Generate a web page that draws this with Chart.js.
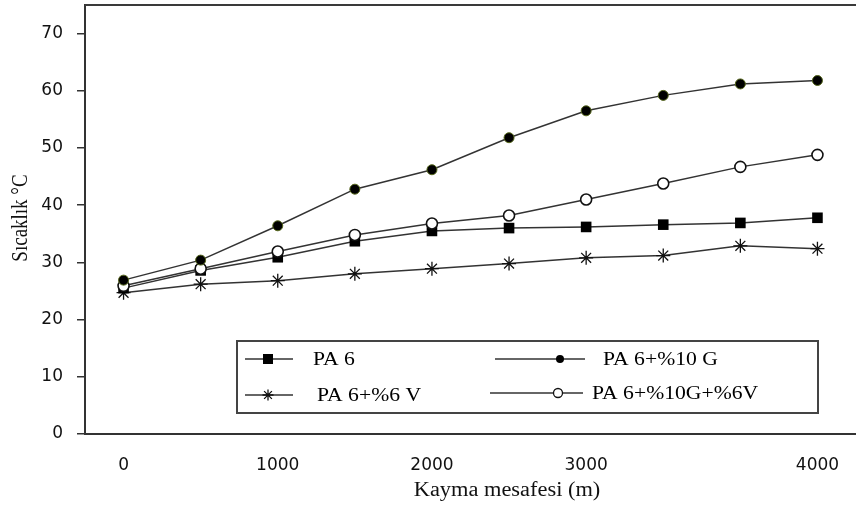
<!DOCTYPE html>
<html>
<head>
<meta charset="utf-8">
<script src="https://cdn.jsdelivr.net/npm/chart.js@4.4.0/dist/chart.umd.min.js"></script>
<style>
  html, body { margin: 0; padding: 0; background: #fff; }
  #wrap { width: 856px; height: 507px; overflow: hidden; }
</style>
</head>
<body>
<div id="wrap"><canvas id="chart" width="856" height="507"></canvas></div>
<script>
// x categories: sliding distance (m), labels as printed under the axis
const distanceLabels = ['0', '', '1000', '', '2000', '', '3000', '', '', '4000']

// temperature (°C) per material
const pa6   = [25.5, 28.6, 30.9, 33.7, 35.5, 36.0, 36.2, 36.6, 36.9, 37.8]
const pa6G  = [26.9, 30.4, 36.4, 42.8, 46.2, 51.8, 56.5, 59.2, 61.2, 61.8]
const pa6V  = [24.7, 26.2, 26.8, 28.0, 28.9, 29.8, 30.8, 31.2, 32.9, 32.4]
const pa6GV = [25.9, 28.9, 31.9, 34.8, 36.8, 38.2, 41.0, 43.8, 46.7, 48.8]

const seriesNames = ['PA 6', 'PA 6+%10 G', 'PA 6+%6 V', 'PA 6+%10G+%6V']
const yMax = 70

const serif = '"Liberation Serif", "Times New Roman", serif'
const lineColor = '#333'

function drawMarker(ctx, style, x, y, r) {
    ctx.save()
    ctx.lineWidth = 1.3
    ctx.strokeStyle = '#111'
    ctx.beginPath()
    if (style === 'rect') {
        ctx.fillStyle = '#000'
        ctx.fillRect(x - r, y - r, 2 * r, 2 * r)
    } else if (style === 'dot') {
        ctx.fillStyle = '#000'
        ctx.arc(x, y, r, 0, Math.PI * 2)
        ctx.fill()
    } else if (style === 'open') {
        ctx.fillStyle = '#fff'
        ctx.arc(x, y, r, 0, Math.PI * 2)
        ctx.fill()
        ctx.stroke()
    } else {
        for (let k = 0; k < 4; k++) {
            const a = k * Math.PI / 4
            ctx.moveTo(x - r * Math.cos(a), y - r * Math.sin(a))
            ctx.lineTo(x + r * Math.cos(a), y + r * Math.sin(a))
        }
        ctx.stroke()
    }
    ctx.restore()
}

function stretchedText(ctx, text, x, y, sx, rot) {
    ctx.save()
    ctx.translate(x, y)
    ctx.scale(sx, 1)
    if (rot) ctx.rotate(rot)
    ctx.fillText(text, 0, 0)
    ctx.restore()
}

const decorations = {
    id: 'decorations',
    afterDraw(chart) {
        const {ctx, chartArea: a} = chart
        ctx.save()
        // top frame
        ctx.strokeStyle = '#3a3a3a'
        ctx.lineWidth = 2
        ctx.beginPath()
        ctx.moveTo(a.left, a.top)
        ctx.lineTo(a.right, a.top)
        ctx.stroke()

        // axis titles
        ctx.fillStyle = '#111'
        ctx.textBaseline = 'middle'
        ctx.textAlign = 'center'
        ctx.font = '20px ' + serif
        stretchedText(ctx, 'Kayma mesafesi (m)', 507, 491, 1.12)
        ctx.font = '19px ' + serif
        stretchedText(ctx, 'Sıcaklık °C', 21, 218, 1.25, -Math.PI / 2)

        // legend box
        ctx.strokeStyle = '#444'
        ctx.lineWidth = 2
        ctx.strokeRect(237, 341, 581, 72)

        const items = [
            {style: 'rect', r: 5, x1: 245, x2: 293, mx: 268, y: 359, tx: 313},
            {style: 'dot', r: 4, x1: 495, x2: 585, mx: 560, y: 359, tx: 603},
            {style: 'star', r: 5.5, x1: 245, x2: 293, mx: 268, y: 395, tx: 317},
            {style: 'open', r: 4.5, x1: 490, x2: 583, mx: 558, y: 393, tx: 592}
        ]
        ctx.font = '19px ' + serif
        ctx.textAlign = 'left'
        items.forEach((it, i) => {
            ctx.strokeStyle = lineColor
            ctx.lineWidth = 1.5
            ctx.beginPath()
            ctx.moveTo(it.x1, it.y)
            ctx.lineTo(it.x2, it.y)
            ctx.stroke()
            drawMarker(ctx, it.style, it.mx, it.y, it.r)
            ctx.fillStyle = '#000'
            stretchedText(ctx, seriesNames[i], it.tx, it.y + 1, 1.14)
        })
        ctx.restore()
    }
}

const base = {
    borderColor: lineColor,
    borderWidth: 1.5,
    tension: 0,
    fill: false,
    clip: false,
    pointBorderColor: '#111'
}

const tickFont = {family: '"DejaVu Sans", sans-serif', size: 17}

new Chart('chart', {
    type: 'line',
    data: {
        labels: distanceLabels,
        datasets: [
            {...base, label: seriesNames[0], data: pa6, order: 2,
                pointStyle: 'rect', pointRadius: 7.5, pointBackgroundColor: '#000', pointBorderWidth: 0},
            {...base, label: seriesNames[1], data: pa6G, order: 0,
                pointStyle: 'circle', pointRadius: 5, pointBackgroundColor: '#000',
                pointBorderColor: '#55661a', pointBorderWidth: 1},
            {...base, label: seriesNames[2], data: pa6V, order: 3,
                pointStyle: 'star', pointRadius: 7, pointBackgroundColor: '#000', pointBorderWidth: 1.3},
            {...base, label: seriesNames[3], data: pa6GV, order: 1,
                pointStyle: 'circle', pointRadius: 5.5, pointBackgroundColor: '#fff', pointBorderWidth: 1.6}
        ]
    },
    options: {
        responsive: false,
        animation: false,
        layout: {autoPadding: false, padding: {top: 5, right: -6, left: 0, bottom: 0}},
        plugins: {legend: {display: false}, tooltip: {enabled: false}},
        scales: {
            x: {
                offset: true,
                grid: {display: false},
                border: {display: true, color: '#333', width: 2},
                ticks: {autoSkip: false, maxRotation: 0, padding: 13, color: '#111', font: tickFont},
                afterFit: scale => {
                    scale.height = 73
                    scale.paddingLeft = 0
                    scale.paddingRight = 0
                }
            },
            y: {
                min: 0,
                max: 75,
                grid: {display: true, drawOnChartArea: false, drawTicks: true, tickLength: 8, color: '#333', lineWidth: 1.5},
                border: {display: true, color: '#333', width: 2},
                ticks: {stepSize: 10, padding: 14, color: '#111', font: tickFont},
                afterBuildTicks: scale => { scale.ticks = scale.ticks.filter(t => t.value <= yMax) },
                afterFit: scale => {
                    scale.width = 85
                    scale.paddingTop = 0
                    scale.paddingBottom = 0
                }
            }
        }
    },
    plugins: [decorations]
})
</script>
</body>
</html>
